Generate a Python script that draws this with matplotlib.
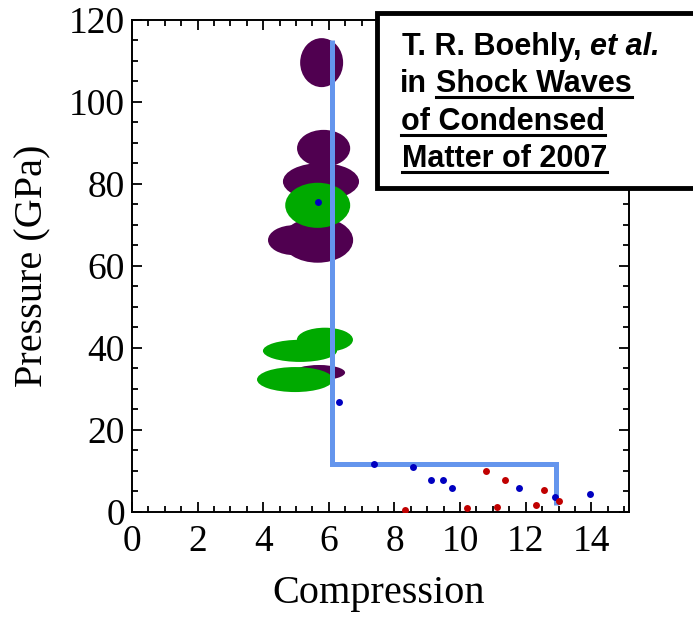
import matplotlib
matplotlib.use("Agg")
import matplotlib.pyplot as plt
from matplotlib.patches import Ellipse, Rectangle
from matplotlib.lines import Line2D
from matplotlib.ticker import MultipleLocator
from matplotlib.transforms import IdentityTransform

# Uncertainty regions (centre x, centre y, width, height) in data units
purple_x = [5.78, 5.84, 5.76, 5.66, 4.94, 5.70]
purple_y = [109.6, 88.7, 80.6, 66.3, 66.3, 34.0]
purple_w = [1.31, 1.62, 2.32, 2.16, 1.59, 1.59]
purple_h = [11.95, 9.0, 9.0, 11.0, 7.3, 3.7]

green_x = [5.66, 5.88, 5.12, 4.97]
green_y = [74.8, 42.0, 39.3, 32.3]
green_w = [1.98, 1.71, 2.26, 2.32]
green_h = [11.0, 5.9, 5.4, 6.1]

# Measured points
blue_x = [5.66, 6.31, 7.37, 8.58, 9.12, 9.48, 9.75, 11.79, 12.90, 13.97]
blue_y = [75.6, 26.9, 11.6, 11.05, 7.8, 7.8, 5.8, 5.8, 3.7, 4.5]
red_x = [8.31, 10.21, 10.80, 11.12, 11.38, 12.32, 12.55, 13.03]
red_y = [0.5, 0.9, 10.0, 1.1, 7.8, 1.6, 5.4, 2.8]

# Step model curve
step_x = [6.1, 6.1, 12.92, 12.92]
step_y = [115, 11.6, 11.6, 1.7]

fig = plt.figure(figsize=(6.93, 6.17), dpi=100)
ax = fig.add_axes([0.1905, 0.1702, 0.7172, 0.7974])

for x, y, w, h in zip(purple_x, purple_y, purple_w, purple_h):
    ax.add_patch(Ellipse((x, y), w, h, facecolor="#500050", edgecolor="none", zorder=2))
for x, y, w, h in zip(green_x, green_y, green_w, green_h):
    ax.add_patch(Ellipse((x, y), w, h, facecolor="#00aa00", edgecolor="none", zorder=3))

ax.plot(step_x, step_y, color="#6495ed", lw=3.6, solid_joinstyle="miter",
        solid_capstyle="butt", zorder=4)
ax.plot(blue_x, blue_y, "o", color="#0000c0", ms=5, mec="none", zorder=5)
ax.plot(red_x, red_y, "o", color="#c00000", ms=5, mec="none", zorder=5)

ax.set_xlim(0, 15.15)
ax.set_ylim(0, 120)
ax.xaxis.set_major_locator(MultipleLocator(2))
ax.xaxis.set_minor_locator(MultipleLocator(0.5))
ax.yaxis.set_major_locator(MultipleLocator(20))
ax.yaxis.set_minor_locator(MultipleLocator(5))

serif = "Liberation Serif"
ax.tick_params(which="both", direction="in", top=True, right=True, width=1.3,
               colors="black")
ax.tick_params(which="major", length=7)
ax.tick_params(which="minor", length=4)
ax.tick_params(axis="x", pad=9)
ax.tick_params(axis="y", pad=5)
for lab in ax.get_xticklabels() + ax.get_yticklabels():
    lab.set_fontfamily(serif)
    lab.set_fontsize(27)
for sp in ax.spines.values():
    sp.set_linewidth(1.4)

ax.set_xlabel("Compression", fontfamily=serif, fontsize=29)
ax.set_ylabel("Pressure (GPa)", fontfamily=serif, fontsize=29)
ax.xaxis.set_label_coords(0.496, -0.128)
ax.yaxis.set_label_coords(-0.163, 0.5)

# Reference box
W, H = 693, 617
fig.patches.append(Rectangle((377 / W, 1 - 188 / H), 0.6, (188 - 13) / H,
                             transform=fig.transFigure, facecolor="white",
                             edgecolor="black", lw=3.5, zorder=10))

sans = "Liberation Sans"
fs = 22


def put(px, base, s, **kw):
    return fig.text(px / W, 1 - base / H, s, fontfamily=sans, fontsize=fs,
                    fontweight="bold", va="baseline", ha="left", zorder=11, **kw)


t1 = put(402, 55, "T. R. Boehly,")
t2 = put(400, 92, "in")
t3 = put(401, 130, "of Condensed")
t4 = put(402, 167, "Matter of 2007")
fig.canvas.draw()
r = fig.canvas.get_renderer()
gap = 9
b1 = t1.get_window_extent(r)
t1b = fig.text((b1.x1 + gap) / W, 1 - 55 / H, "et al.", fontfamily=sans,
               fontsize=fs, fontweight="bold", fontstyle="italic",
               va="baseline", ha="left", zorder=11)
b2 = t2.get_window_extent(r)
t2b = fig.text((b2.x1 + gap) / W, 1 - 92 / H, "Shock Waves", fontfamily=sans,
               fontsize=fs, fontweight="bold", va="baseline", ha="left", zorder=11)
fig.canvas.draw()

# Underlines under the title of the reference
for t, base in [(t2b, 92), (t3, 130), (t4, 167)]:
    bb = t.get_window_extent(r)
    yy = H - base - 5
    fig.lines.append(Line2D([bb.x0, bb.x1], [yy, yy], transform=IdentityTransform(),
                            color="black", lw=2.2, zorder=12))

fig.savefig("out.png", dpi=100)
